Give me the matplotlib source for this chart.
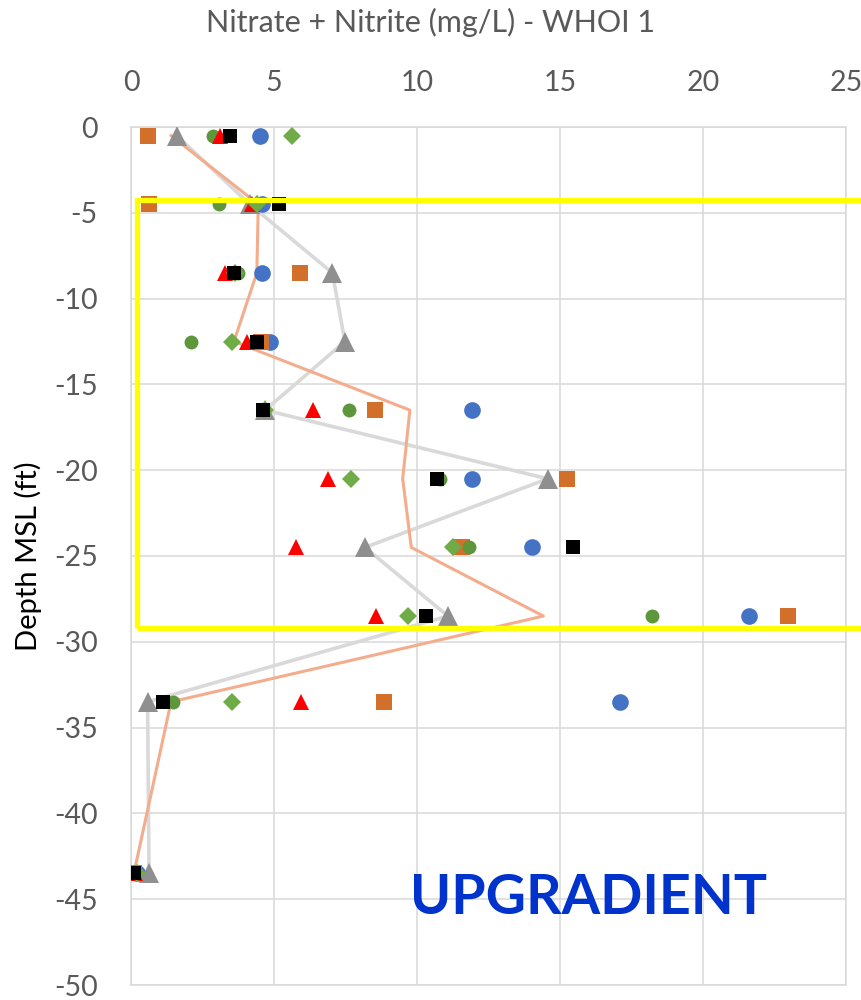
import matplotlib
matplotlib.use("Agg")
import matplotlib.pyplot as plt
from matplotlib.patches import Rectangle

plt.rcParams['font.family'] = ['Lato', 'DejaVu Sans']
plt.rcParams['axes.unicode_minus'] = False

# Sample depths (ft MSL)
depth = [-0.5, -4.5, -8.5, -12.5, -16.5, -20.5, -24.5, -28.5, -33.5, -43.5]

# Nitrate + nitrite concentrations (mg/L) per sampling event
blue_circle = [4.5, 4.57, 4.59, 4.86, 11.93, 11.93, 14.01, 21.62, 17.1, 0.2]
orange_square = [0.58, 0.64, 5.91, 4.55, 8.54, 15.23, 11.58, 22.96, 8.86, 0.1]
gray_triangle = [1.6, 4.15, 7.04, 7.48, 4.69, 14.57, 8.18, 11.08, 0.58, 0.63]
green_circle = [2.86, 3.07, 3.75, 2.1, 7.63, 10.8, 11.83, 18.23, 1.46, 0.15]
red_triangle = [3.1, 4.22, 3.29, 4.04, 6.35, 6.88, 5.76, 8.55, 5.96, 0.15]
green_diamond = [5.64, 4.39, 3.65, 3.52, 4.7, 7.68, 11.27, 9.7, 3.52, 0.22]
black_square = [3.46, 5.19, 3.6, 4.39, 4.63, 10.69, 15.44, 10.31, 1.11, 0.12]
salmon_line = [1.4, 4.45, 4.4, 3.6, 9.75, 9.5, 9.8, 14.42, 1.4, 0.1]

x_ticks = [0, 5, 10, 15, 20, 25]
y_ticks = [0, -5, -10, -15, -20, -25, -30, -35, -40, -45, -50]

fig = plt.figure(figsize=(8.61, 10.0), dpi=100)
ax = fig.add_axes([131 / 861, 15 / 1000, 715 / 861, 858 / 1000])

grid_c = '#d9d9d9'
ax.set_xlim(0, 25)
ax.set_ylim(-50, 0)
ax.set_xticks(x_ticks)
ax.set_yticks(y_ticks)
ax.xaxis.tick_top()
ax.tick_params(axis='both', length=0, labelsize=20.5, labelcolor='#595959')
ax.tick_params(axis='x', pad=22)
ax.tick_params(axis='y', pad=24)
ax.grid(True, color=grid_c, linewidth=1.1, zorder=0)
ax.set_axisbelow(True)
for s in ax.spines.values():
    s.set_color(grid_c)
    s.set_linewidth(1.1)

# Connecting lines
ax.plot(gray_triangle, depth, color='#d9d9d9', linewidth=2.6, zorder=2)
ax.plot(salmon_line, depth, color='#f4ad8c', linewidth=2.2, zorder=3)

# Markers
mk = dict(linestyle='none', markeredgewidth=0, zorder=4)
ax.plot(blue_circle, depth, marker='o', markersize=12, color='#4472c4', **mk)
ax.plot(orange_square, depth, marker='s', markersize=12, color='#d2702b', **mk)
ax.plot(gray_triangle, depth, marker='^', markersize=14.5, color='#8f8f8f', **mk)
ax.plot(green_circle, depth, marker='o', markersize=10, color='#5e963b', **mk)
ax.plot(red_triangle, depth, marker='^', markersize=12.2, color='#ff0000', **mk)
ax.plot(green_diamond, depth, marker='D', markersize=9.2, color='#6fac47', **mk)
ax.plot(black_square, depth, marker='s', markersize=10, color='#000000', **mk)

# Highlighted depth interval
ax.add_patch(Rectangle((0.2, -29.2), 26.5, 29.2 - 4.24, fill=False,
                       edgecolor='#ffff00', linewidth=3.8, clip_on=False, zorder=5))

fig.text(431 / 861, 1 - 32 / 1000, 'Nitrate + Nitrite (mg/L) - WHOI 1',
         ha='center', va='baseline', fontsize=22, color='#595959')
fig.text(28 / 861, 1 - 556 / 1000, 'Depth MSL (ft)', rotation=90,
         ha='center', va='center', fontsize=21, color='#000000')
fig.text(588 / 861, 1 - 914 / 1000, 'UPGRADIENT', ha='center', va='baseline',
         fontsize=40, fontweight='bold', color='#0033cc')

fig.savefig('out.png', dpi=100)
